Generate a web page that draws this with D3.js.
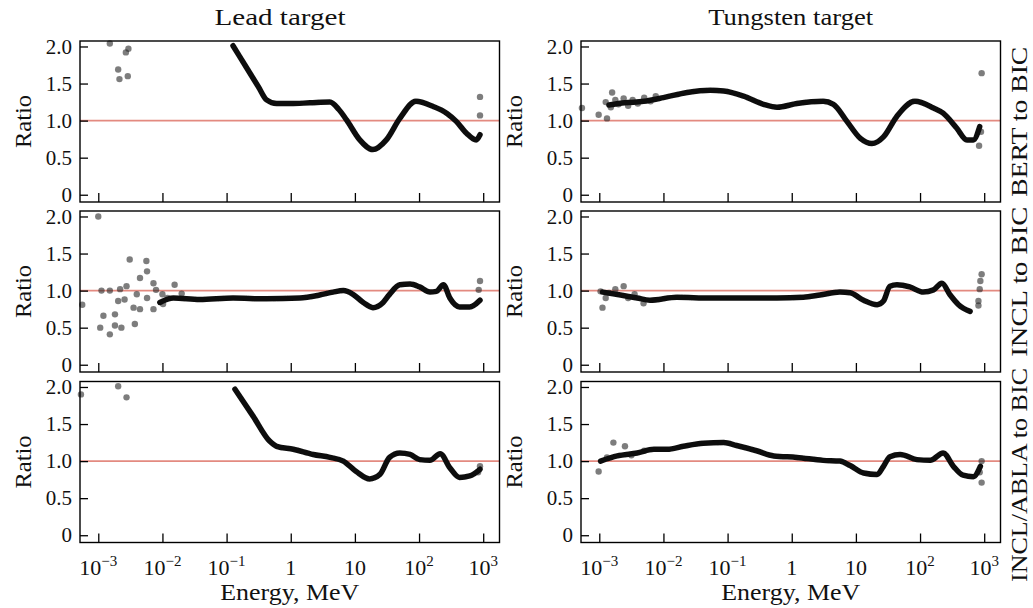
<!DOCTYPE html>
<html>
<head>
<meta charset="utf-8">
<script src="https://cdnjs.cloudflare.com/ajax/libs/d3/7.8.5/d3.min.js"></script>
<style>
  body { margin: 0; background: #fff; }
  svg { display: block; }
  .tick text { font-family: "Liberation Serif", serif; font-size: 21px; fill: #111; }
  .lbl { font-family: "Liberation Serif", serif; font-size: 24px; fill: #111; }
</style>
</head>
<body>
<div id="chart"></div>
<script>
// ratio vs energy, values as [log10(E / MeV), ratio]
const targets = ["Lead target", "Tungsten target"];
const models = ["BERT to BIC", "INCL to BIC", "INCL/ABLA to BIC"];

const yTicks = [0, 0.5, 1, 1.5, 2];
const yTickLabels = ["0", "0.5", "1.0", "1.5", "2.0"];
const xTicks = [1e-3, 1e-2, 1e-1, 1, 10, 1e2, 1e3];
const xTickBase = ["10", "10", "10", "1", "10", "10", "10"];
const xTickExp = ["\u22123", "\u22122", "\u22121", "", "", "2", "3"];

// lead, BERT
const leadBertCurve = [[-0.90,2.01],[-0.70,1.73],[-0.50,1.45],[-0.377,1.28],[-0.22,1.23],[0.0,1.23],[0.3,1.24],[0.61,1.25],[0.75,1.15],[0.87,1.01],[1.076,0.74],[1.28,0.61],[1.49,0.74],[1.70,1.03],[1.95,1.26],[2.22,1.19],[2.43,1.10],[2.58,0.99],[2.74,0.83],[2.89,0.74],[2.95,0.81]];
const leadBertDots = [[-2.82,2.04],[-2.69,1.69],[-2.57,1.92],[-2.53,1.97],[-2.67,1.56],[-2.54,1.60],[2.95,1.32],[2.95,1.07]];
// tungsten, BERT
const wBertCurve = [[-2.85,1.21],[-2.6,1.24],[-2.31,1.26],[-2.0,1.31],[-1.63,1.38],[-1.27,1.41],[-1.06,1.40],[-0.75,1.33],[-0.44,1.22],[-0.23,1.18],[0.08,1.23],[0.49,1.26],[0.65,1.22],[0.86,0.99],[1.07,0.76],[1.25,0.69],[1.43,0.78],[1.64,1.06],[1.92,1.26],[2.21,1.17],[2.36,1.10],[2.57,0.90],[2.73,0.74],[2.83,0.74],[2.93,0.92]];
const wBertDots = [[-3.01,1.08],[-2.88,1.03],[-2.80,1.38],[-2.90,1.25],[-2.82,1.18],[-2.75,1.28],[-2.70,1.22],[-2.62,1.30],[-2.55,1.20],[-2.48,1.28],[-2.40,1.23],[-2.30,1.31],[-2.20,1.26],[-2.12,1.33],[-3.27,1.17],[2.96,1.64],[2.92,0.66],[2.95,0.85]];
// lead, INCL
const leadInclCurve = [[-2.04,0.84],[-1.83,0.90],[-1.42,0.88],[-0.90,0.90],[-0.38,0.89],[0.14,0.90],[0.45,0.94],[0.66,0.98],[0.82,1.00],[0.97,0.95],[1.13,0.84],[1.28,0.77],[1.44,0.84],[1.54,0.95],[1.70,1.08],[1.86,1.09],[2.01,1.05],[2.17,0.98],[2.27,0.99],[2.38,1.08],[2.48,0.90],[2.63,0.78],[2.79,0.78],[2.95,0.87]];
const leadInclDots = [[-3.0,2.0],[-3.25,0.81],[-2.97,0.50],[-2.82,0.41],[-2.92,0.66],[-2.74,0.68],[-2.74,0.53],[-2.64,0.50],[-2.43,0.55],[-2.51,1.42],[-2.25,1.40],[-2.24,1.26],[-2.35,1.17],[-2.95,1.0],[-2.82,1.0],[-2.56,1.06],[-2.69,0.86],[-2.59,0.88],[-2.45,0.77],[-2.35,0.75],[-2.14,0.75],[-2.14,1.10],[-2.10,1.01],[-2.24,0.90],[-1.99,0.82],[-1.92,0.90],[-1.81,1.08],[-1.70,0.96],[-2.66,1.02],[-2.40,0.95],[-2.0,0.95],[2.95,1.13],[2.93,1.01]];
// tungsten, INCL
const wInclCurve = [[-2.95,0.98],[-2.67,0.94],[-2.41,0.90],[-2.21,0.87],[-1.79,0.91],[-1.27,0.90],[-0.75,0.90],[-0.23,0.90],[0.18,0.91],[0.44,0.94],[0.75,0.98],[0.91,0.97],[1.12,0.87],[1.33,0.81],[1.43,0.86],[1.53,1.06],[1.64,1.08],[1.84,1.05],[2.05,0.98],[2.21,1.01],[2.34,1.10],[2.47,0.94],[2.60,0.81],[2.78,0.72]];
const wInclDots = [[-2.98,0.99],[-2.95,0.77],[-2.90,0.90],[-2.85,0.97],[-2.62,1.06],[-2.55,0.90],[-2.31,0.83],[-2.75,1.02],[-2.45,0.95],[2.91,0.86],[2.94,1.13],[2.93,1.02],[2.91,0.80],[2.96,1.22]];
// lead, INCL/ABLA
const leadAblaCurve = [[-0.87,1.97],[-0.59,1.61],[-0.33,1.27],[-0.22,1.20],[0.04,1.16],[0.35,1.09],[0.61,1.05],[0.82,1.00],[1.02,0.86],[1.23,0.76],[1.39,0.82],[1.54,1.05],[1.70,1.11],[1.86,1.09],[2.01,1.02],[2.17,1.01],[2.33,1.10],[2.48,0.91],[2.63,0.78],[2.79,0.80],[2.95,0.89]];
const leadAblaDots = [[-2.69,2.01],[-2.56,1.86],[-3.27,1.90],[2.92,0.85],[2.95,0.93]];
// tungsten, INCL/ABLA
const wAblaCurve = [[-2.98,1.00],[-2.72,1.07],[-2.41,1.11],[-2.15,1.16],[-1.94,1.16],[-1.69,1.20],[-1.38,1.24],[-1.06,1.25],[-0.86,1.21],[-0.55,1.14],[-0.28,1.07],[0.08,1.05],[0.49,1.01],[0.75,1.00],[0.91,0.94],[1.12,0.84],[1.33,0.82],[1.43,0.93],[1.53,1.06],[1.69,1.09],[1.95,1.02],[2.16,1.01],[2.36,1.11],[2.52,0.93],[2.67,0.81],[2.83,0.79],[2.94,0.93]];
const wAblaDots = [[-3.01,0.86],[-2.78,1.25],[-2.60,1.20],[-2.88,1.05],[-2.50,1.08],[-2.3,1.14],[2.96,1.00],[2.96,0.71],[2.93,0.85]];

const panels = [
  [leadBertCurve, leadBertDots], [wBertCurve, wBertDots],
  [leadInclCurve, leadInclDots], [wInclCurve, wInclDots],
  [leadAblaCurve, leadAblaDots], [wAblaCurve, wAblaDots]
];

const W = 1033, H = 608;
const colX = [80, 581], pw = 419.5;
const rowY = [41, 211, 381.5], ph = 161;
const modelLabelY = [121.7, 281.7, 475];

const svg = d3.select("#chart").append("svg")
  .attr("width", W).attr("height", H);

const defs = svg.append("defs");
defs.append("filter").attr("id", "soft")
  .append("feGaussianBlur").attr("stdDeviation", 0.7);

const x = d3.scaleLog().domain([Math.pow(10, -3.285), Math.pow(10, 3.254)]).range([0, pw]);
const y = d3.scaleLinear().domain([-0.098, 2.074]).range([ph, 0]);

const line = d3.line()
  .x(d => x(Math.pow(10, d[0])))
  .y(d => y(d[1]))
  .curve(d3.curveMonotoneX);

panels.forEach((p, i) => {
  const col = i % 2, row = Math.floor(i / 2);
  const g = svg.append("g").attr("transform", `translate(${colX[col]},${rowY[row]})`);

  // reference line at ratio 1
  g.append("line")
    .attr("x1", 0).attr("x2", pw)
    .attr("y1", y(1)).attr("y2", y(1))
    .attr("stroke", "#e38a80").attr("stroke-width", 1.8);

  // scattered points
  g.append("g").selectAll("circle")
    .data(p[1]).enter().append("circle")
    .attr("cx", d => x(Math.pow(10, d[0])))
    .attr("cy", d => y(d[1]))
    .attr("r", 3.2)
    .attr("fill", "#2a2a2a")
    .attr("fill-opacity", 0.6)
    .attr("filter", "url(#soft)");

  // dense part, drawn as a thick line
  g.append("path")
    .datum(p[0])
    .attr("d", line)
    .attr("fill", "none")
    .attr("stroke", "#111")
    .attr("stroke-width", 5.5)
    .attr("stroke-linecap", "round")
    .attr("stroke-linejoin", "round")
    .attr("filter", "url(#soft)");

  // axes, ticks pointing inwards
  const ya = g.append("g")
    .call(d3.axisLeft(y).tickValues(yTicks).tickSize(-8).tickPadding(8)
      .tickFormat((d, k) => yTickLabels[k]));
  ya.select(".domain").remove();
  ya.selectAll("line").attr("stroke", "#000").attr("stroke-width", 1.3);

  const xa = g.append("g").attr("transform", `translate(0,${ph})`)
    .call(d3.axisBottom(x).tickValues(xTicks).tickSize(-9).tickFormat(""));
  xa.select(".domain").remove();
  xa.selectAll("line").attr("stroke", "#000").attr("stroke-width", 1.3);

  if (row === 2) {
    xTicks.forEach((t, k) => {
      const tx = g.append("text").attr("class", "lbl")
        .attr("x", x(t)).attr("y", ph + 32)
        .attr("text-anchor", "middle")
        .style("font-size", "22px");
      tx.append("tspan").text(xTickBase[k]);
      if (xTickExp[k]) {
        tx.append("tspan").attr("dy", -9).style("font-size", "15px").text(xTickExp[k]);
      }
    });
    g.append("text").attr("class", "lbl")
      .attr("x", pw / 2).attr("y", ph + 57)
      .attr("text-anchor", "middle")
      .attr("textLength", 139).attr("lengthAdjust", "spacingAndGlyphs")
      .text("Energy, MeV");
  }

  // frame
  g.append("rect")
    .attr("width", pw).attr("height", ph)
    .attr("fill", "none").attr("stroke", "#000").attr("stroke-width", 1.4);

  // y label
  g.append("text").attr("class", "lbl")
    .attr("transform", `translate(${col === 0 ? -49 : -59},${ph / 2}) rotate(-90)`)
    .attr("text-anchor", "middle")
    .attr("textLength", 53).attr("lengthAdjust", "spacingAndGlyphs")
    .text("Ratio");

  if (row === 0) {
    g.append("text").attr("class", "lbl")
      .attr("x", col === 0 ? 200 : pw / 2).attr("y", -16)
      .attr("text-anchor", "middle")
      .attr("textLength", col === 0 ? 131 : 165).attr("lengthAdjust", "spacingAndGlyphs")
      .text(targets[col]);
  }
});

// model labels on the right side
models.forEach((m, r) => {
  svg.append("text").attr("class", "lbl")
    .attr("transform", `translate(1027,${modelLabelY[r]}) rotate(-90)`)
    .attr("text-anchor", "middle")
    .attr("textLength", r === 2 ? 214 : 150).attr("lengthAdjust", "spacingAndGlyphs")
    .text(m);
});
</script>
</body>
</html>
